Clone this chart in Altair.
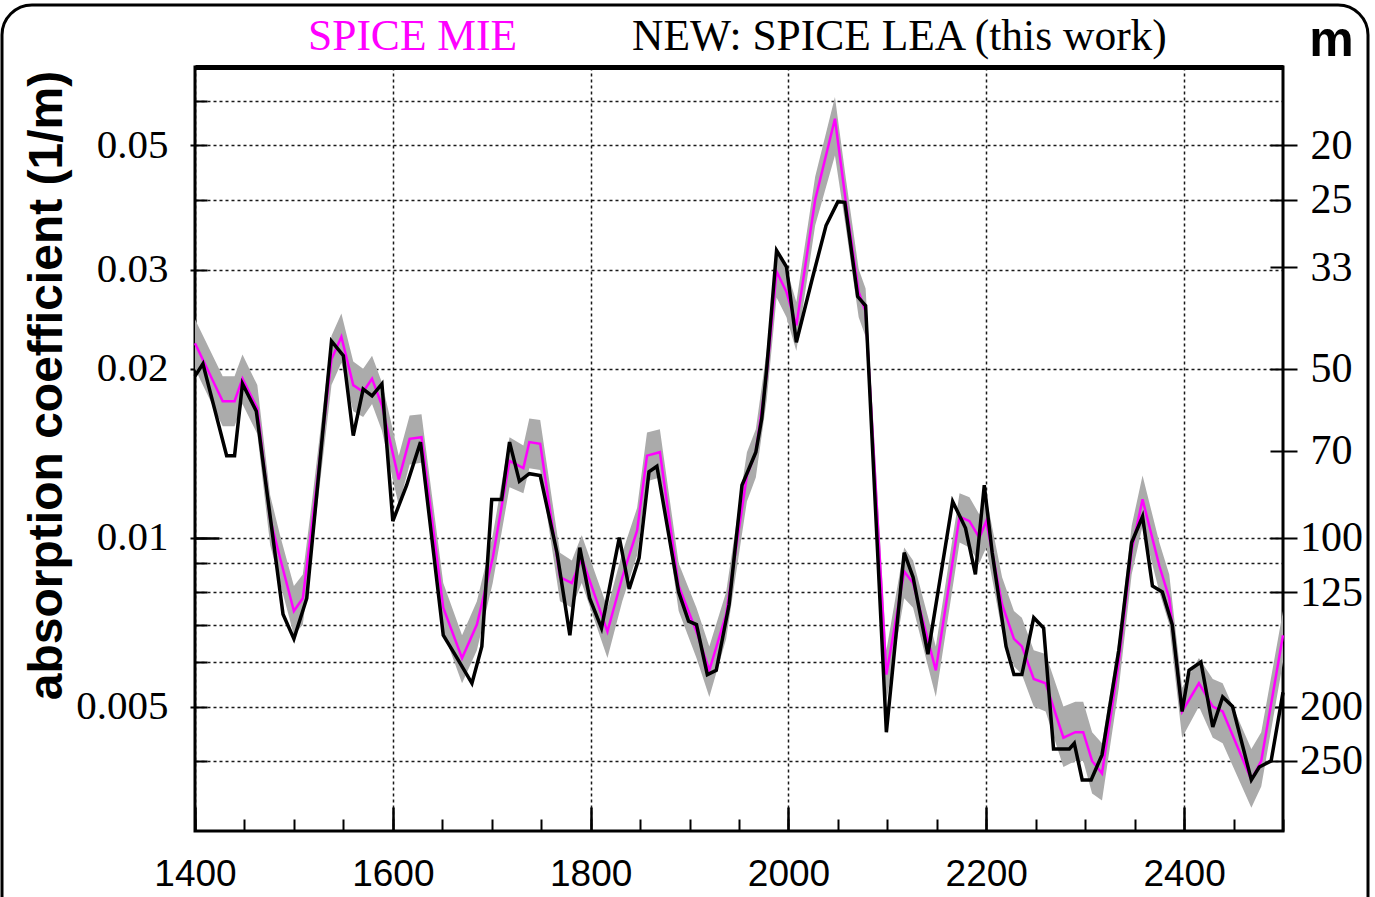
import altair as alt
import pandas as pd

# ---------------- data ----------------
lea_depth = [1400, 1408, 1432, 1440, 1448, 1462, 1489, 1500, 1513, 1538,
             1550, 1560, 1570, 1579, 1589, 1600, 1614, 1628, 1651, 1665,
             1680, 1690, 1700, 1710, 1718, 1728, 1738, 1749, 1766, 1779,
             1789, 1799, 1811, 1829, 1839, 1849, 1859, 1867, 1889, 1899,
             1907, 1918, 1927, 1940, 1953, 1967, 1973, 1978, 1988, 1998,
             2008, 2024, 2038, 2050, 2057, 2070, 2078, 2099, 2117, 2126,
             2141, 2166, 2179, 2189, 2198, 2206, 2220, 2228, 2236, 2248,
             2258, 2268, 2284, 2289, 2297, 2306, 2317, 2334, 2347, 2358,
             2368, 2378, 2388, 2398, 2405, 2417, 2429, 2439, 2449, 2468,
             2476, 2488, 2500]
lea_value = [0.0194, 0.0204, 0.0140, 0.0140, 0.0188, 0.0168, 0.0073, 0.0066, 0.0078, 0.0224,
             0.0211, 0.0152, 0.0184, 0.0179, 0.0188, 0.0107, 0.0124, 0.0148, 0.0067, 0.0061,
             0.0055, 0.0064, 0.0117, 0.0117, 0.0148, 0.0126, 0.0130, 0.0129, 0.0094, 0.0067,
             0.0096, 0.0078, 0.0069, 0.0100, 0.0081, 0.0092, 0.0131, 0.0134, 0.0080, 0.0071,
             0.0070, 0.0057, 0.0058, 0.0076, 0.0124, 0.0142, 0.0163, 0.0200, 0.0325, 0.0304,
             0.0223, 0.0289, 0.0360, 0.0397, 0.0396, 0.0269, 0.0259, 0.0045, 0.0094, 0.0085,
             0.0062, 0.0116, 0.0104, 0.0086, 0.0124, 0.0094, 0.0064, 0.0057, 0.0057, 0.0072,
             0.0069, 0.0042, 0.0042, 0.0043, 0.0037, 0.0037, 0.0041, 0.0063, 0.0098, 0.0109,
             0.0082, 0.0080, 0.0070, 0.0049, 0.0058, 0.0060, 0.0046, 0.0052, 0.0050, 0.0037,
             0.0039, 0.0040, 0.0053]

mie_depth = [1400, 1428, 1440, 1448, 1463, 1476, 1486, 1500, 1509, 1519,
             1538, 1548, 1560, 1570, 1579, 1589, 1606, 1617, 1629, 1651,
             1670, 1685, 1701, 1718, 1732, 1738, 1749, 1769, 1781, 1791,
             1817, 1832, 1847, 1857, 1870, 1889, 1907, 1920, 1937, 1958,
             1967, 1978, 1988, 1998, 2008, 2027, 2047, 2058, 2071, 2078,
             2099, 2117, 2126, 2149, 2173, 2183, 2193, 2200, 2216, 2228,
             2236, 2248, 2260, 2278, 2290, 2298, 2307, 2317, 2334, 2347,
             2358, 2375, 2385, 2398, 2415, 2429, 2439, 2468, 2478, 2500]
mie_value = [0.0222, 0.0175, 0.0175, 0.0192, 0.0170, 0.0108, 0.0092, 0.0074, 0.0078, 0.0108,
             0.0208, 0.0228, 0.0187, 0.0182, 0.0192, 0.0172, 0.0127, 0.0150, 0.0151, 0.0075,
             0.0061, 0.0070, 0.0092, 0.0137, 0.0133, 0.0148, 0.0147, 0.0085, 0.0083, 0.0092,
             0.0068, 0.0085, 0.0103, 0.0140, 0.0142, 0.0082, 0.0068, 0.0058, 0.0073, 0.0129,
             0.0142, 0.0195, 0.0298, 0.0274, 0.0239, 0.0400, 0.0558, 0.0397, 0.0274, 0.0253,
             0.0057, 0.0087, 0.0083, 0.0058, 0.0109, 0.0107, 0.0100, 0.0107, 0.0076, 0.0066,
             0.0064, 0.0056, 0.0055, 0.0044, 0.0045, 0.0045, 0.0040, 0.0038, 0.0060, 0.0095,
             0.0117, 0.0089, 0.0078, 0.0049, 0.0055, 0.0050, 0.0049, 0.0037, 0.0040, 0.0067]
band_high = [0.0245, 0.0194, 0.0194, 0.0212, 0.0187, 0.0119, 0.0101, 0.0082, 0.0086, 0.0119,
             0.0229, 0.0251, 0.0206, 0.0200, 0.0211, 0.0189, 0.0140, 0.0165, 0.0166, 0.0083,
             0.0067, 0.0077, 0.0101, 0.0151, 0.0146, 0.0163, 0.0162, 0.0094, 0.0091, 0.0101,
             0.0075, 0.0094, 0.0113, 0.0154, 0.0156, 0.0090, 0.0075, 0.0064, 0.0080, 0.0142,
             0.0156, 0.0215, 0.0328, 0.0301, 0.0263, 0.0440, 0.0610, 0.0437, 0.0301, 0.0278,
             0.0063, 0.0096, 0.0091, 0.0064, 0.0120, 0.0118, 0.0110, 0.0118, 0.0085, 0.0074,
             0.0072, 0.0063, 0.0062, 0.0050, 0.0051, 0.0051, 0.0045, 0.0043, 0.0066, 0.0105,
             0.0129, 0.0098, 0.0086, 0.0054, 0.0061, 0.0056, 0.0055, 0.0042, 0.0045, 0.0074]
band_low = [0.0200, 0.0158, 0.0158, 0.0173, 0.0153, 0.0097, 0.0083, 0.0067, 0.0070, 0.0097,
            0.0187, 0.0205, 0.0168, 0.0164, 0.0173, 0.0155, 0.0114, 0.0135, 0.0136, 0.0068,
            0.0055, 0.0063, 0.0083, 0.0123, 0.0120, 0.0133, 0.0132, 0.0077, 0.0075, 0.0083,
            0.0061, 0.0077, 0.0093, 0.0126, 0.0128, 0.0074, 0.0061, 0.0052, 0.0066, 0.0116,
            0.0128, 0.0176, 0.0268, 0.0247, 0.0215, 0.0360, 0.0480, 0.0357, 0.0247, 0.0228,
            0.0051, 0.0078, 0.0075, 0.0052, 0.0098, 0.0096, 0.0090, 0.0096, 0.0068, 0.0059,
            0.0057, 0.0050, 0.0049, 0.0039, 0.0040, 0.0040, 0.0035, 0.0034, 0.0054, 0.0086,
            0.0105, 0.0080, 0.0070, 0.0044, 0.0050, 0.0044, 0.0043, 0.0033, 0.0036, 0.0060]

x_label_values = [1400, 1600, 1800, 2000, 2200, 2400]
x_minor_ticks = [1400, 1450, 1500, 1550, 1600, 1650, 1700, 1750, 1800, 1850, 1900,
                 1950, 2000, 2050, 2100, 2150, 2200, 2250, 2300, 2350, 2400, 2450, 2500]
y_label_values = [0.005, 0.01, 0.02, 0.03, 0.05]
y_grid_values = [0.004, 0.005, 0.006, 0.007, 0.008, 0.009, 0.01, 0.02, 0.03, 0.04, 0.05, 0.06]
right_meters = [20, 25, 33, 50, 70, 100, 125, 200, 250]
right_values = [1.0 / m for m in right_meters]
legend_labels = ["SPICE MIE", "NEW: SPICE LEA (this work)"]
legend_colors = ["#ff00ff", "black"]

lea_df = pd.DataFrame({"depth": lea_depth, "lea": lea_value})
mie_df = pd.DataFrame({"depth": mie_depth, "mie": mie_value, "hi": band_high, "lo": band_low})
one = pd.DataFrame({"k": [0]})

W, H = 1088, 764
xs = alt.Scale(domain=[1400, 2500], nice=False, zero=False)
ys = alt.Scale(type="log", domain=[0.003, 0.069], nice=False)

GRID = dict(grid=True, gridDash=[3, 3], gridColor="black", gridWidth=1.5, gridOpacity=0.9)

band = alt.Chart(mie_df).mark_area(color="#ababab", opacity=1).encode(
    x=alt.X("depth:Q", scale=xs, axis=alt.Axis(
        orient="bottom", values=x_label_values, format="d", ticks=False, domain=False,
        labelFont="Liberation Sans", labelFontSize=37, labelPadding=25, labelColor="black",
        labelFlush=False, labelOverlap=False, title=None, **GRID)),
    y=alt.Y("lo:Q", scale=ys, axis=alt.Axis(
        orient="left", values=y_grid_values, labels=False, ticks=False, domain=False,
        title=None, **GRID)),
    y2="hi:Q",
)

mie_line = alt.Chart(mie_df).mark_line(color="#ff00ff", strokeWidth=2.5).encode(
    x=alt.X("depth:Q", scale=xs, axis=alt.Axis(
        orient="top", offset=-H, values=x_minor_ticks, labels=False, tickSize=12,
        tickWidth=2, tickColor="black", domain=False, grid=False, title=None)),
    y=alt.Y("mie:Q", scale=ys, axis=alt.Axis(
        orient="left", values=y_label_values, format=".3~f", labelFont="Liberation Serif",
        labelFontSize=41, labelPadding=22, labelColor="black", labelOverlap=False,
        tickSize=5, tickWidth=2, tickColor="black", domain=False, grid=False,
        title="absorption coefficient (1/m)", titleFont="Liberation Sans",
        titleFontWeight="bold", titleFontSize=48, titleColor="black", titleAngle=270,
        titleX=-124, titleY=318, titleAlign="center", titleBaseline="bottom")),
)

lea_line = alt.Chart(lea_df).mark_line(color="black", strokeWidth=3.5).encode(
    x=alt.X("depth:Q", scale=xs, axis=alt.Axis(
        orient="top", offset=-H, values=x_label_values, labels=False, tickSize=24,
        tickWidth=2.5, tickColor="black", domain=False, grid=False, title=None)),
    y=alt.Y("lea:Q", scale=ys, axis=alt.Axis(
        orient="right", values=right_values, labelExpr="round(1/datum.value)",
        labelFont="Liberation Serif", labelFontSize=42, labelAlign="center",
        labelPadding=34, labelColor="black", labelOverlap=False,
        tickSize=14, tickWidth=2, tickColor="black", domain=False, grid=False,
        title="m", titleAngle=0, titleX=48, titleY=-12, titleAlign="center",
        titleBaseline="alphabetic", titleFont="Liberation Sans", titleFontWeight="bold",
        titleFontSize=50, titleColor="black")),
)

ax_a = alt.Chart(mie_df).mark_line(opacity=0).encode(
    x=alt.X("depth:Q", scale=xs, axis=alt.Axis(
        orient="top", labels=False, ticks=False, grid=False, domain=True,
        domainWidth=5, domainColor="black", title=None)),
    y=alt.Y("mie:Q", scale=ys, axis=alt.Axis(
        orient="right", offset=-W, values=y_grid_values, labels=False, tickSize=12,
        tickWidth=2, tickColor="black", domain=False, grid=False, title=None)),
)

ax_b = alt.Chart(mie_df).mark_line(opacity=0).encode(
    x=alt.X("depth:Q", scale=xs, axis=None),
    y=alt.Y("mie:Q", scale=ys, axis=alt.Axis(
        orient="left", offset=-W, values=right_values, labels=False, tickSize=13,
        tickWidth=2, tickColor="black", domain=False, grid=False, title=None)),
)

ax_c = alt.Chart(mie_df).mark_line(opacity=0).encode(
    x=alt.X("depth:Q", scale=xs, axis=None),
    y=alt.Y("mie:Q", scale=ys, axis=alt.Axis(
        orient="right", offset=-W, values=[0.01], labels=False, tickSize=24,
        tickWidth=2.5, tickColor="black", domain=False, grid=False, title=None)),
)

leg1 = alt.Chart(one).mark_text(
    text=legend_labels[0], color=legend_colors[0], font="Liberation Serif", fontSize=43.5,
    align="left", baseline="alphabetic").encode(x=alt.value(113), y=alt.value(-17))
leg2 = alt.Chart(one).mark_text(
    text=legend_labels[1], color=legend_colors[1], font="Liberation Serif", fontSize=43.5,
    align="left", baseline="alphabetic").encode(x=alt.value(437), y=alt.value(-17))

frame = alt.Chart(one).mark_rect(
    fillOpacity=0, stroke="black", strokeWidth=3, cornerRadius=30).encode(
    x=alt.value(-193), x2=alt.value(1173), y=alt.value(-62), y2=alt.value(900))

chart = alt.layer(
    band, ax_a, ax_b, ax_c, mie_line, lea_line, leg1, leg2, frame
).resolve_axis(
    x="independent", y="independent"
).properties(
    width=W, height=H,
    padding={"left": 195, "top": 67, "right": 92, "bottom": 66},
    autosize=alt.AutoSizeParams(type="none"),
    background="white",
).configure_view(stroke="black", strokeWidth=3)

chart.save("out.html", embed_options={"renderer": "svg", "actions": False})
